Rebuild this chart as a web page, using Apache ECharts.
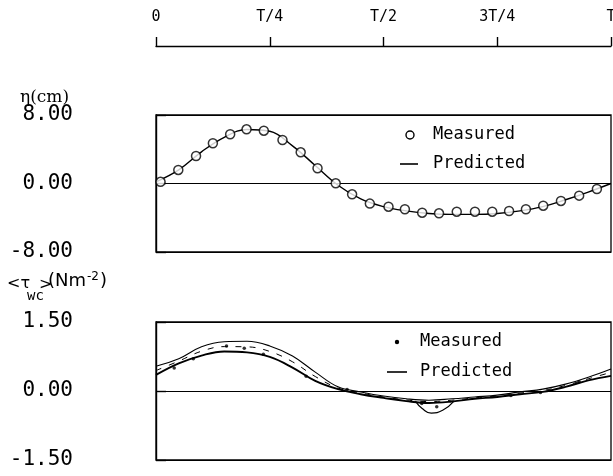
<!DOCTYPE html>
<html>
<head>
<meta charset="utf-8">
<script src="https://cdn.jsdelivr.net/npm/echarts@6/dist/echarts.min.js"></script>
<style>
html,body{margin:0;padding:0;background:#fff;}
#chart{width:613px;height:476px;}
</style>
</head>
<body>
<div id="chart"></div>
<script>
// ---- data ----
var timeTicks = ['0', 'T/4', 'T/2', '3T/4', 'T'];
var etaTicks = {'-8': '-8.00', '0': '0.00', '8': '8.00'};
var tauTicks = {'-1.5': '-1.50', '0': '0.00', '1.5': '1.50'};

// phase (fraction of period T) of measured surface elevation
var etaMeasT = [0.010, 0.049, 0.088, 0.125, 0.163, 0.199, 0.237, 0.278, 0.318, 0.355, 0.395, 0.431, 0.470,
                0.511, 0.547, 0.585, 0.622, 0.661, 0.701, 0.739, 0.776, 0.813, 0.851, 0.890, 0.930, 0.969];
var etaMeasured = [0.2, 1.58, 3.21, 4.70, 5.75, 6.33, 6.17, 5.08, 3.64, 1.78, 0.02, -1.26, -2.35,
                   -2.71, -3.01, -3.41, -3.48, -3.29, -3.29, -3.29, -3.21, -3.01, -2.59, -2.04, -1.42, -0.64];

var predT = [0, 0.05, 0.1, 0.15, 0.2, 0.25, 0.3, 0.35, 0.4, 0.45, 0.5, 0.55, 0.6, 0.65, 0.7, 0.75, 0.8, 0.85, 0.9, 0.95, 1.0];
var etaPredicted = [0.2, 1.6, 3.7, 5.4, 6.3, 6.1, 4.4, 2.1, -0.2, -1.8, -2.7, -3.2, -3.5, -3.6, -3.6, -3.5, -3.2, -2.7, -1.9, -1.0, 0.0];

// bed shear stress
var tauPredicted = [0.35, 0.60, 0.77, 0.86, 0.84, 0.74, 0.51, 0.22, 0.04, -0.07, -0.15, -0.22, -0.26, -0.23, -0.17, -0.13, -0.07, -0.02, 0.09, 0.23, 0.33];
var tauUpper = [0.54, 0.70, 0.96, 1.07, 1.08, 0.98, 0.76, 0.41, 0.09, -0.02, -0.11, -0.17, -0.20, -0.17, -0.13, -0.09, -0.02, 0.04, 0.15, 0.30, 0.48];
var tauLoopT = [0.570, 0.585, 0.605, 0.630, 0.655];
var tauLoop = [-0.22, -0.38, -0.48, -0.42, -0.22];
var tauMeasT = [0.04, 0.082, 0.155, 0.194, 0.236, 0.33, 0.42, 0.584, 0.617, 0.78, 0.845, 0.93];
var tauMeasured = [0.50, 0.70, 0.98, 0.93, 0.80, 0.32, 0.03, -0.27, -0.34, -0.10, -0.03, 0.20];

function pairs(xs, ys) { return xs.map(function (x, i) { return [x, ys[i]]; }); }
function mid(a, b) { return a.map(function (v, i) { return (v + b[i]) / 2; }); }

var mono = 'DejaVu Sans Mono';
var black = '#000';

var chart = echarts.init(document.getElementById('chart'), null, {renderer: 'canvas'});

function yAxisFor(grid, min, max, interval, labels) {
  return {
    gridIndex: grid, type: 'value', min: min, max: max, interval: interval,
    position: 'left', offset: 66,
    axisLine: {show: true, lineStyle: {color: black, width: 1.4}},
    axisTick: {show: true, inside: true, length: 10, lineStyle: {color: black, width: 1.4}},
    axisLabel: {
      margin: 17, color: black, fontFamily: mono, fontSize: 21,
      formatter: function (v) { return labels[String(+v.toFixed(2))]; }
    },
    splitLine: {show: true, lineStyle: {color: black, width: 1}}
  };
}

var option = {
  animation: false,
  backgroundColor: '#fff',
  grid: [
    {left: 156, top: 45, width: 455, height: 1, show: false, outerBoundsMode: 'none', containLabel: false},
    {left: 156, top: 115, width: 455, height: 137, show: true, borderColor: black, borderWidth: 1.3, outerBoundsMode: 'none', containLabel: false},
    {left: 156, top: 322, width: 455, height: 138, show: true, borderColor: black, borderWidth: 1.3, outerBoundsMode: 'none', containLabel: false}
  ],
  xAxis: [
    {
      gridIndex: 0, type: 'value', min: 0, max: 1, interval: 0.25, position: 'top',
      axisLine: {lineStyle: {color: black, width: 1.4}},
      axisTick: {length: 9, lineStyle: {color: black, width: 1.4}},
      axisLabel: {
        margin: 20, color: black, fontFamily: mono, fontSize: 15,
        formatter: function (v) { return timeTicks[Math.round(v * 4)]; }
      },
      splitLine: {show: false}
    },
    {gridIndex: 1, type: 'value', min: 0, max: 1, show: false},
    {gridIndex: 2, type: 'value', min: 0, max: 1, show: false}
  ],
  yAxis: [
    {gridIndex: 0, type: 'value', min: 0, max: 1, show: false},
    yAxisFor(1, -8, 8, 8, etaTicks),
    yAxisFor(2, -1.5, 1.5, 1.5, tauTicks)
  ],
  series: [
    {
      name: 'Predicted', type: 'line', xAxisIndex: 1, yAxisIndex: 1, smooth: 0.4,
      symbol: 'none', data: pairs(predT, etaPredicted),
      lineStyle: {color: black, width: 1.4}, z: 2
    },
    {
      name: 'Measured', type: 'scatter', xAxisIndex: 1, yAxisIndex: 1,
      symbol: 'circle', symbolSize: 9, data: pairs(etaMeasT, etaMeasured),
      itemStyle: {color: '#fff', borderColor: black, borderWidth: 1.5}, z: 3
    },
    {
      name: 'Predicted', type: 'line', xAxisIndex: 2, yAxisIndex: 2, smooth: 0.4,
      symbol: 'none', data: pairs(predT, tauPredicted),
      lineStyle: {color: black, width: 1.9}, z: 2
    },
    {
      name: 'Predicted band', type: 'line', xAxisIndex: 2, yAxisIndex: 2, smooth: 0.4,
      symbol: 'none', data: pairs(predT, tauUpper),
      lineStyle: {color: black, width: 1.1}, z: 2
    },
    {
      name: 'Predicted band mid', type: 'line', xAxisIndex: 2, yAxisIndex: 2, smooth: 0.4,
      symbol: 'none', data: pairs(predT, mid(tauUpper, tauPredicted)),
      lineStyle: {color: black, width: 1, type: [6, 8]}, z: 2
    },
    {
      name: 'Measured loop', type: 'line', xAxisIndex: 2, yAxisIndex: 2, smooth: 0.5,
      symbol: 'none', data: pairs(tauLoopT, tauLoop),
      lineStyle: {color: black, width: 1.2}, z: 2
    },
    {
      name: 'Measured', type: 'scatter', xAxisIndex: 2, yAxisIndex: 2,
      symbol: 'circle', symbolSize: 3.5, data: pairs(tauMeasT, tauMeasured),
      itemStyle: {color: black}, z: 3
    }
  ],
  graphic: [
    {type: 'text', left: 20, top: 89, style: {text: 'η(cm)', font: '17px "DejaVu Serif"', fill: black}},
    // <τwc>(Nm-2)
    {type: 'text', left: 7, top: 276, style: {text: '<τ', font: '16px "DejaVu Sans"', fill: black}},
    {type: 'text', left: 27, top: 289, style: {text: 'wc', font: '14px "DejaVu Sans Mono"', fill: black}},
    {type: 'text', left: 39, top: 277, style: {text: '>', font: '16px "DejaVu Sans"', fill: black}},
    {type: 'text', left: 48, top: 272, style: {text: '(Nm', font: '18px "DejaVu Sans"', fill: black}},
    {type: 'text', left: 87, top: 271, style: {text: '-2', font: '12px "DejaVu Sans"', fill: black}},
    {type: 'text', left: 100, top: 272, style: {text: ')', font: '18px "DejaVu Sans"', fill: black}},
    // top legend
    {type: 'circle', shape: {cx: 410, cy: 135, r: 4}, style: {fill: '#fff', stroke: black, lineWidth: 1.4}},
    {type: 'text', left: 433, top: 126, style: {text: 'Measured', font: '17px "DejaVu Sans Mono"', fill: black}},
    {type: 'line', shape: {x1: 400, y1: 164, x2: 418, y2: 164}, style: {stroke: black, lineWidth: 1.6}},
    {type: 'text', left: 433, top: 155, style: {text: 'Predicted', font: '17px "DejaVu Sans Mono"', fill: black}},
    // bottom legend
    {type: 'circle', shape: {cx: 397, cy: 342, r: 2.2}, style: {fill: black}},
    {type: 'text', left: 420, top: 333, style: {text: 'Measured', font: '17px "DejaVu Sans Mono"', fill: black}},
    {type: 'line', shape: {x1: 387, y1: 372, x2: 407, y2: 372}, style: {stroke: black, lineWidth: 1.6}},
    {type: 'text', left: 420, top: 363, style: {text: 'Predicted', font: '17px "DejaVu Sans Mono"', fill: black}}
  ]
};
chart.setOption(option);
</script>
</body>
</html>
